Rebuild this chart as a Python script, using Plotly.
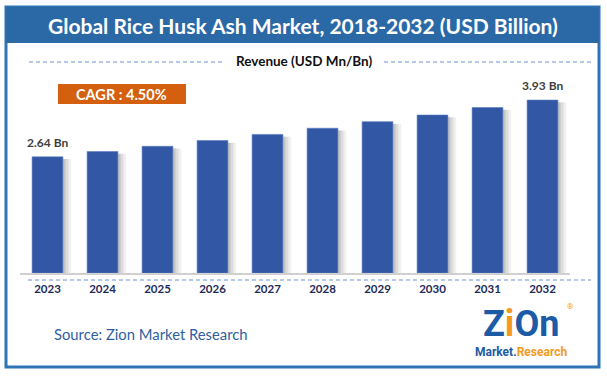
import plotly.graph_objects as go

years = ["2023", "2024", "2025", "2026", "2027", "2028", "2029", "2030", "2031", "2032"]
revenue = [2.64, 2.76, 2.88, 3.01, 3.15, 3.29, 3.44, 3.59, 3.76, 3.93]
label_years = ["2023", "2032"]
title_text = "Global Rice Husk Ash Market, 2018-2032 (USD Billion)"
subtitle_text = "Revenue (USD Mn/Bn)"
cagr_text = "CAGR : 4.50%"
source_text = "Source: Zion Market Research"

W, H = 607, 376
L, R, T, B = 20, 570, 80, 273
PX_PER_UNIT = 44.0


def px(x):
    return (x - L) / (R - L)


def py(y):
    return (B - y) / (B - T)


FONT = "Lato"
BAR = "#3257A4"
DASH = "4px,3px"

fig = go.Figure()

# soft shadow strips to the right of each bar
for off, alpha in [(0.28, 0.30), (0.33, 0.18), (0.38, 0.08)]:
    fig.add_trace(go.Bar(
        x=years, y=[v - 0.05 for v in revenue], width=0.05, offset=off,
        marker=dict(color=f"rgba(60,60,60,{alpha})", line=dict(width=0)),
        hoverinfo="skip", showlegend=False))

fig.add_trace(go.Bar(
    x=years, y=revenue, width=0.56, offset=-0.28,
    marker=dict(color=BAR, line=dict(color="#5A7CC0", width=0.6)),
    showlegend=False))

shapes = [
    dict(type="rect", xref="paper", yref="paper", x0=px(6), x1=px(599), y0=py(367), y1=py(7),
         line=dict(color="#2F74B6", width=3), fillcolor="rgba(0,0,0,0)", layer="above"),
    dict(type="rect", xref="paper", yref="paper", x0=px(6), x1=px(599), y0=py(43), y1=py(7),
         line=dict(width=0), fillcolor="#2B69A6", layer="above"),
    dict(type="line", xref="paper", yref="paper", x0=px(29), x1=px(223), y0=py(62), y1=py(62),
         line=dict(color="#6F92CF", width=1, dash=DASH)),
    dict(type="line", xref="paper", yref="paper", x0=px(384), x1=px(591), y0=py(62), y1=py(62),
         line=dict(color="#6F92CF", width=1, dash=DASH)),
    dict(type="line", xref="paper", yref="paper", x0=px(28), x1=px(591), y0=py(280), y1=py(280),
         line=dict(color="#6F92CF", width=1, dash=DASH)),
    dict(type="rect", xref="paper", yref="paper", x0=px(58), x1=px(186), y0=py(104), y1=py(84),
         line=dict(width=0), fillcolor="#D45F0E"),
]

annotations = [
    dict(xref="paper", yref="paper", x=px(303), y=py(25), text=f"<b>{title_text}</b>",
         showarrow=False, xanchor="center", yanchor="middle",
         font=dict(family=FONT, size=21, color="white")),
    dict(xref="paper", yref="paper", x=px(303.5), y=py(61), text=f"<b>{subtitle_text}</b>",
         showarrow=False, xanchor="center", yanchor="middle",
         font=dict(family=FONT, size=13.5, color="#111111")),
    dict(xref="paper", yref="paper", x=px(121), y=py(94), text=f"<b>{cagr_text}</b>",
         showarrow=False, xanchor="center", yanchor="middle",
         font=dict(family=FONT, size=14.5, color="white")),
    dict(xref="paper", yref="paper", x=px(52), y=py(334), text=source_text,
         showarrow=False, xanchor="left", yanchor="middle",
         font=dict(family=FONT, size=14.8, color="#2F5F9F")),
    # logo
    dict(xref="paper", yref="paper", x=px(521), y=py(323.5),
         text="<b>Z<span style='color:#F39A1E'>i</span>On</b>",
         showarrow=False, xanchor="center", yanchor="middle",
         font=dict(family="Roboto", size=36, color="#1D5BA6")),
    dict(xref="paper", yref="paper", x=px(521), y=py(352),
         text="<b>Market.<span style='color:#F39A1E'>Research</span></b>",
         showarrow=False, xanchor="center", yanchor="middle",
         font=dict(family="Roboto", size=12, color="#1D5BA6")),
    dict(xref="paper", yref="paper", x=px(570), y=py(306), text="®",
         showarrow=False, xanchor="center", yanchor="middle",
         font=dict(family="Roboto", size=8, color="#F39A1E")),
]

for i, (yr, v) in enumerate(zip(years, revenue)):
    if yr in label_years:
        annotations.append(dict(x=i, y=v, xref="x", yref="y", text=f"<b>{v:.2f} Bn</b>",
                                showarrow=False, xanchor="center", yanchor="bottom", yshift=5,
                                font=dict(family=FONT, size=12, color="#404040")))

fig.update_layout(
    width=W, height=H,
    margin=dict(l=L, r=W - R, t=T, b=H - B, pad=0),
    paper_bgcolor="white", plot_bgcolor="white",
    barmode="overlay", bargap=0.44,
    shapes=shapes, annotations=annotations,
    xaxis=dict(type="category", range=[-0.5, len(years) - 0.5],
               showline=True, linecolor="#D0D0D0", linewidth=1.5, showgrid=False,
               ticks="", tickfont=dict(family=FONT, size=11.5, color="#1F2B5B"),
               tickprefix="<b>", ticksuffix="</b>", ticklabelstandoff=4, fixedrange=True),
    yaxis=dict(range=[0, (B - T) / PX_PER_UNIT], visible=False, showgrid=False, fixedrange=True),
)

fig.write_html("out.html", config={"displayModeBar": False},
               post_script="document.body.style.margin='0';")
